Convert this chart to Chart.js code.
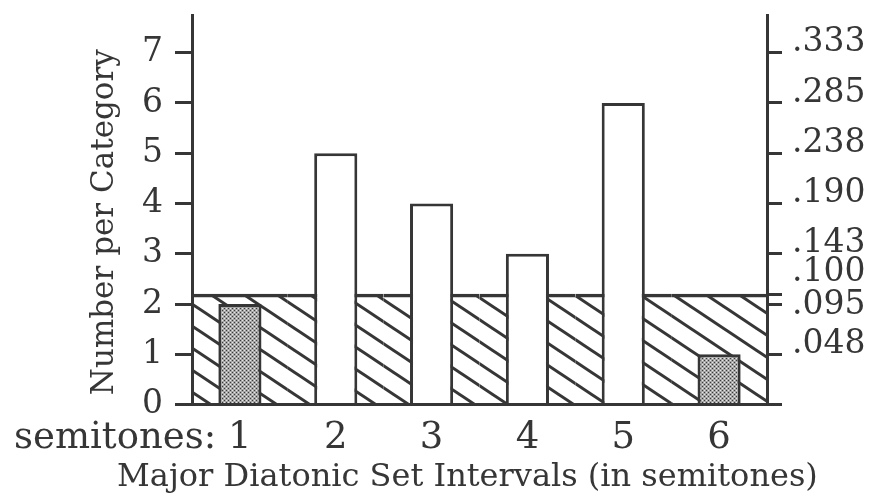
<!DOCTYPE html>
<html>
<head>
<meta charset="utf-8">
<script src="https://cdn.jsdelivr.net/npm/chart.js@4.4.1/dist/chart.umd.min.js"></script>
<style>
  html, body { margin: 0; padding: 0; background: #fff; }
  canvas { display: block; }
</style>
</head>
<body>
<canvas id="chart" width="871" height="497"></canvas>
<script>
// Values
const intervals = ['1', '2', '3', '4', '5', '6'];
const counts = [2, 5, 4, 3, 6, 1];
const expectedCount = 2.2; // hatched chance level (.100 on the right axis)
const xPrefix = 'semitones: ';
const xTitle = 'Major Diatonic Set Intervals (in semitones)';
const yTitle = 'Number per Category';
const leftTicks = [0, 1, 2, 3, 4, 5, 6, 7];
const rightTicks = [0, 1, 2, 2.2, 3, 4, 5, 6, 7];
const rightLabels = ['', '.048', ['', '.095'], ['.100', ''], '.143', '.190', '.238', '.285', '.333'];
const yMax = 7.75;

const INK = '#363636';
const FAMILY = 'DejaVu Serif';
const TICK_SIZE = 33;
const XTICK_SIZE = 37;
const TITLE_SIZE = 32;
const YTITLE_SIZE = 31;

// diagonal "\" hatching for the area under the chance line
function hatchPattern() {
  const w = 33, h = 22;
  const c = document.createElement('canvas');
  c.width = w; c.height = h;
  const g = c.getContext('2d');
  g.strokeStyle = INK;
  g.lineWidth = 3;
  [-w, 0, w].forEach(dx => {
    g.beginPath();
    g.moveTo(dx - w, -h);
    g.lineTo(dx + 2 * w, 2 * h);
    g.stroke();
  });
  return g.createPattern(c, 'repeat');
}

// dotted gray fill for the bars below chance
function stipplePattern() {
  const c = document.createElement('canvas');
  c.width = 4; c.height = 4;
  const g = c.getContext('2d');
  g.fillStyle = '#a6a6a6';
  g.fillRect(0, 0, 4, 4);
  g.fillStyle = '#3a3a3a';
  g.fillRect(0, 0, 1, 1);
  g.fillRect(2, 2, 1, 1);
  g.fillStyle = '#e8e8e8';
  g.fillRect(2, 0, 1, 1);
  g.fillRect(0, 2, 1, 1);
  return g.createPattern(c, 'repeat');
}

// thin spaces as wide as `text`, used to shift centred labels
function padFor(text, size) {
  const g = document.createElement('canvas').getContext('2d');
  g.font = size + 'px ' + FAMILY;
  const n = Math.round(g.measureText(text).width / g.measureText('\u2009').width);
  return '\u2009'.repeat(n);
}

function padPx(px, size) {
  const g = document.createElement('canvas').getContext('2d');
  g.font = size + 'px ' + FAMILY;
  return '\u2009'.repeat(Math.round(px / g.measureText('\u2009').width));
}

const stipple = stipplePattern();
const xPad = padFor(xPrefix, XTICK_SIZE);

const chart = new Chart(document.getElementById('chart'), {
  type: 'bar',
  data: {
    labels: intervals,
    datasets: [
      {
        data: counts,
        order: 0,
        yAxisID: 'y',
        backgroundColor: ctx => (ctx.raw < expectedCount ? stipple : '#ffffff'),
        borderColor: INK,
        borderWidth: 3,
        borderSkipped: 'start',
        barPercentage: 0.45,
        categoryPercentage: 1
      },
      {
        data: intervals.map(() => expectedCount),
        order: 1,
        yAxisID: 'y',
        grouped: false,
        backgroundColor: hatchPattern(),
        borderColor: INK,
        borderWidth: { top: 3, left: 0, right: 0, bottom: 0 },
        borderSkipped: false,
        barPercentage: 1,
        categoryPercentage: 1
      }
    ]
  },
  options: {
    responsive: false,
    animation: false,
    layout: { padding: { top: 15, left: 0, right: 0, bottom: 0 } },
    plugins: {
      legend: { display: false },
      tooltip: { enabled: false },
      title: {
        display: true,
        position: 'bottom',
        text: padPx(67, TITLE_SIZE) + xTitle,
        color: INK,
        font: { family: FAMILY, size: TITLE_SIZE, weight: 'normal', lineHeight: 1.2 },
        padding: { top: 0, bottom: 0 }
      }
    },
    scales: {
      x: {
        grid: { display: false },
        border: { display: true, color: INK, width: 3 },
        ticks: {
          color: INK,
          autoSkip: false,
          maxRotation: 0,
          minRotation: 0,
          padding: 4,
          font: { family: FAMILY, size: XTICK_SIZE },
          callback: (v, i) => (i === 0 ? xPrefix + intervals[i] + xPad : intervals[i])
        },
        afterFit: s => { s.height = 54; s.paddingLeft = 0; s.paddingRight = 0; }
      },
      y: {
        position: 'left',
        min: 0,
        max: yMax,
        afterBuildTicks: s => { s.ticks = leftTicks.map(v => ({ value: v })); },
        grid: { drawOnChartArea: false, color: INK, lineWidth: 3, tickLength: 17 },
        border: { display: true, color: INK, width: 3 },
        ticks: {
          color: INK,
          padding: 12,
          font: { family: FAMILY, size: TICK_SIZE }
        },
        title: {
          display: true,
          text: yTitle + padPx(22, YTITLE_SIZE),
          color: INK,
          font: { family: FAMILY, size: YTITLE_SIZE },
          padding: { top: 86, bottom: 0 }
        },
        afterFit: s => { s.width = 192; s.paddingTop = 0; s.paddingBottom = 0; }
      },
      y2: {
        position: 'right',
        min: 0,
        max: yMax,
        afterBuildTicks: s => { s.ticks = rightTicks.map(v => ({ value: v })); },
        grid: { drawOnChartArea: false, color: INK, lineWidth: 3, tickLength: 15 },
        border: { display: true, color: INK, width: 3 },
        ticks: {
          color: INK,
          autoSkip: false,
          padding: 10,
          labelOffset: -10,
          font: { family: FAMILY, size: TICK_SIZE, lineHeight: 0.7 },
          callback: (v, i) => rightLabels[i]
        },
        afterFit: s => { s.width = 104; s.paddingTop = 0; s.paddingBottom = 0; }
      }
    }
  }
});
</script>
</body>
</html>
